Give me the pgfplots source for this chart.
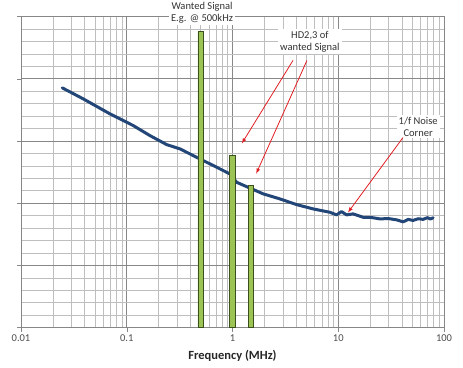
\documentclass[border=0pt]{standalone}
\usepackage{pgfplots}
\pgfplotsset{compat=1.18}
\usepackage{fontspec}
\setmainfont{Carlito}
\definecolor{curve}{RGB}{35,70,120}
\definecolor{barfill}{RGB}{155,196,84}
\definecolor{baredge}{RGB}{60,80,30}
\definecolor{majgrid}{RGB}{135,135,135}
\definecolor{mingrid}{RGB}{190,190,190}
\definecolor{arrowred}{RGB}{225,30,35}
\begin{document}
\begin{tikzpicture}
\path (-21pt,-40pt) rectangle (442pt,327pt);
\begin{axis}[
  at={(0pt,0pt)}, anchor=south west,
  scale only axis, width=423pt, height=311pt,
  xmode=log, xmin=0.01, xmax=100,
  ymin=0, ymax=5,
  xtick={0.01,0.1,1,10,100},
  xticklabels={0.01,0.1,1,10,100},
  ytick={0,1,2,3,4,5}, yticklabels={},
  minor y tick num=4,
  grid=both,
  major grid style={majgrid, line width=0.6pt},
  minor grid style={mingrid, line width=0.6pt},
  axis line style={majgrid, line width=0.8pt},
  tick style={majgrid}, major tick length=4pt, minor tick length=0pt,
  tick align=outside,
  xtick pos=bottom, ytick pos=left,
  tick label style={font=\fontsize{10.5}{12}\selectfont, text=black!70},
  xlabel={\textbf{Frequency (MHz)}},
  xlabel style={font=\fontsize{12.5}{14}\selectfont, text=black!85, yshift=-1pt},
  clip=false,
]
\addplot[curve, line width=3pt, line join=round, line cap=round] coordinates {
(0.02457,3.854) (0.0388,3.677) (0.0694,3.436) (0.1152,3.248) (0.1656,3.087)
(0.2384,2.942) (0.3184,2.873) (0.458,2.738) (0.658,2.605) (0.944,2.471)
(1.094,2.336) (1.950,2.150) (2.806,2.069) (4.036,1.977) (5.79,1.908)
(8.33,1.854) (9.64,1.812) (10.74,1.865) (11.98,1.812) (13.83,1.828)
(17.19,1.773) (20.5,1.770) (24.7,1.748) (30.0,1.752) (35.6,1.732)
(41.1,1.700) (46.0,1.740) (51.0,1.722) (57.0,1.750) (63.4,1.740)
(70.0,1.768) (74.0,1.745) (78.9,1.764)
};
\addplot[ybar, bar width=5.5pt, fill=barfill, draw=baredge, line width=0.8pt] coordinates {
(0.5,4.759) (1.0,2.765) (1.5,2.283)
};
\node[fill=white, align=center, font=\fontsize{10.5}{12}\selectfont, inner sep=2pt, text=black!80] at (rel axis cs:0.428,1.013) {Wanted Signal\\E.g. @ 500kHz};
\node[fill=white, align=center, font=\fontsize{10.5}{12}\selectfont, inner sep=2pt, text=black!80] at (rel axis cs:0.683,0.920) {HD2,3 of\\wanted Signal};
\node[fill=white, align=center, font=\fontsize{10.5}{12}\selectfont, inner sep=2pt, text=black!80] at (rel axis cs:0.939,0.646) {1/f Noise\\Corner};
\draw[arrowred, line width=0.8pt, -latex] (rel axis cs:0.643,0.859) -- (rel axis cs:0.522,0.592);
\draw[arrowred, line width=0.8pt, -latex] (rel axis cs:0.676,0.859) -- (rel axis cs:0.556,0.495);
\draw[arrowred, line width=0.8pt, -latex] (rel axis cs:0.903,0.611) -- (rel axis cs:0.773,0.370);
\end{axis}
\end{tikzpicture}
\end{document}
